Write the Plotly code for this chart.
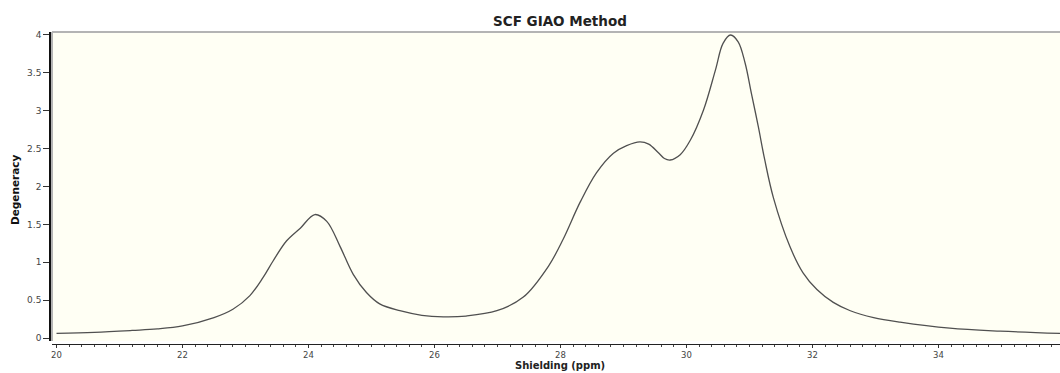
import plotly.graph_objects as go

# Shielding (ppm) and Degeneracy
shielding = [20.0, 20.6, 21.2, 21.6, 22.0, 22.5, 22.8, 23.07, 23.28, 23.44, 23.65, 23.87,
             24.10, 24.29, 24.50, 24.71, 24.92, 25.13, 25.45, 25.8, 26.14, 26.5, 26.99,
             27.41, 27.81, 28.04, 28.31, 28.57, 28.84, 29.05, 29.26, 29.40, 29.55, 29.65, 29.74,
             29.90, 30.06, 30.27, 30.46, 30.58, 30.70, 30.82, 30.93, 31.03, 31.14, 31.24,
             31.38, 31.64, 31.85, 32.07, 32.33, 32.60, 32.97, 33.39, 34.18, 34.98, 35.93]
degeneracy = [0.06, 0.075, 0.10, 0.12, 0.16, 0.27, 0.38, 0.56, 0.80, 1.02, 1.28, 1.45,
              1.63, 1.54, 1.21, 0.84, 0.60, 0.45, 0.36, 0.30, 0.28, 0.29, 0.36,
              0.54, 0.95, 1.30, 1.79, 2.18, 2.44, 2.54, 2.59, 2.56, 2.45, 2.37, 2.35,
              2.42, 2.61, 3.01, 3.54, 3.89, 4.0, 3.91, 3.63, 3.23, 2.79, 2.36,
              1.85, 1.21, 0.86, 0.64, 0.47, 0.36, 0.27, 0.21, 0.13, 0.09, 0.06]

x_ticks = [20, 22, 24, 26, 28, 30, 32, 34, 36]
y_ticks = [0, 0.5, 1, 1.5, 2, 2.5, 3, 3.5, 4]
y_tick_labels = ["0", "0.5", "1", "1.5", "2", "2.5", "3", "3.5", "4"]

FONT = "DejaVu Sans"

fig = go.Figure()
fig.add_trace(go.Scatter(
    x=shielding, y=degeneracy, mode="lines",
    line=dict(color="#505050", width=1.3, shape="spline", smoothing=1.0),
    showlegend=False, hoverinfo="skip"))

L, T, B = 50, 32, 29
W, H = 1060, 373
pw = W - L
ph = H - T - B

fig.update_layout(
    width=W, height=H,
    margin=dict(l=L, r=0, t=T, b=B, pad=0),
    paper_bgcolor="white",
    plot_bgcolor="#FFFFF4",
    font=dict(family=FONT, size=9, color="#444"),
    xaxis=dict(
        domain=[2 / pw, 1], anchor="free", position=0,
        range=[20 - 4.5 / 63, 20 - 4.5 / 63 + 16],
        tickvals=x_ticks, ticktext=[str(v) for v in x_ticks],
        ticks="outside", ticklen=3, tickwidth=1, tickcolor="#333",
        minor=dict(dtick=0.2, tick0=20, ticks="outside", ticklen=2, tickcolor="#444", showgrid=False),
        showline=True, linecolor="#222", linewidth=1,
        showgrid=False, zeroline=False,
        tickfont=dict(family=FONT, size=8.5, color="#444"),
    ),
    yaxis=dict(
        domain=[3 / ph, 1], anchor="free", position=0,
        range=[-3 / 76, 4 + 3 / 76],
        tickvals=y_ticks, ticktext=y_tick_labels,
        ticks="outside", ticklen=6, tickwidth=1, tickcolor="#333",
        showline=True, linecolor="#111", linewidth=1.5,
        showgrid=False, zeroline=False,
        tickfont=dict(family=FONT, size=9, color="#444"),
    ),
    shapes=[
        dict(type="line", xref="x domain", yref="y domain", x0=0, x1=1, y0=1, y1=1,
             line=dict(color="#b4b4b4", width=2)),
        dict(type="line", xref="x domain", yref="y domain", x0=0, x1=0, y0=0, y1=1,
             line=dict(color="#b4b4b4", width=2)),
    ],
    annotations=[
        dict(text="<b>SCF GIAO Method</b>", xref="paper", yref="paper",
             x=(560 - L) / pw, y=(H - B - 21) / ph, xanchor="center", yanchor="middle",
             showarrow=False, font=dict(family=FONT, size=13.5, color="#222")),
        dict(text="<b>Shielding (ppm)</b>", xref="paper", yref="paper",
             x=(560 - L) / pw, y=(H - B - 373) / ph, xanchor="center", yanchor="bottom",
             showarrow=False, font=dict(family=FONT, size=10, color="#222")),
        dict(text="<b>Degeneracy</b>", xref="paper", yref="paper", textangle=-90,
             x=(15 - L) / pw, y=(H - B - 190) / ph, xanchor="center", yanchor="middle",
             showarrow=False, font=dict(family=FONT, size=10.5, color="#111")),
    ],
)

fig.write_html("out.html")
